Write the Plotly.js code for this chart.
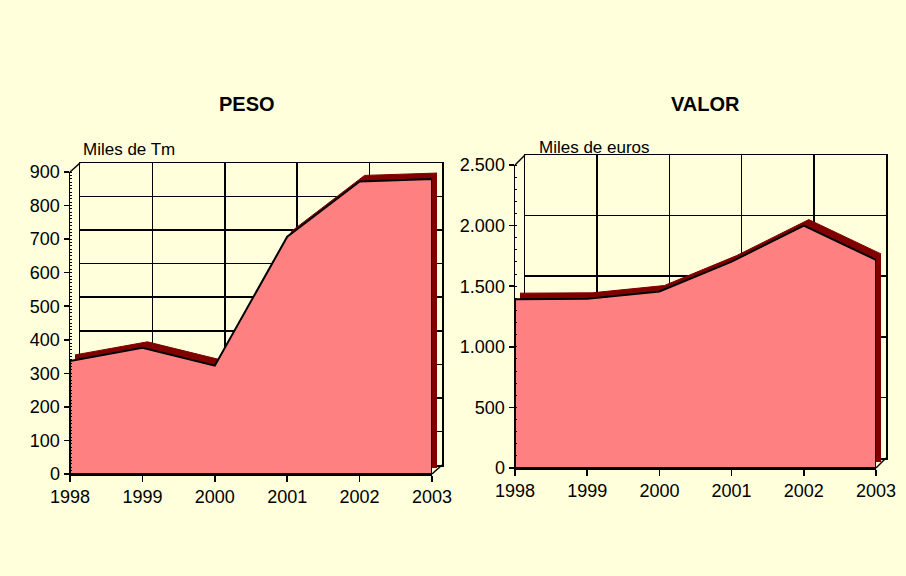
<!DOCTYPE html>
<html>
<head>
<meta charset="utf-8">
<script src="https://cdn.plot.ly/plotly-3.0.1.min.js"></script>
<style>html,body{margin:0;padding:0;background:#FFFFDB;}#chart{width:906px;height:576px;}</style>
</head>
<body>
<div id="chart"></div>
<script>
// ---- data ----
const years = [1998, 1999, 2000, 2001, 2002, 2003];
const yearLabels = ['1998', '1999', '2000', '2001', '2002', '2003'];
const peso = [337, 376, 323, 707, 872, 879];      // Miles de Tm
const valor = [1393, 1396, 1456, 1703, 2000, 1717]; // Miles de euros
const titles = ['PESO', 'VALOR'];
const units = ['Miles de Tm', 'Miles de euros'];

// ---- geometry helpers ----
const W = 906, H = 576;
const BG = '#FFFFDB', PINK = '#FF8080', DARK = '#800000';
const FONT = 'Liberation Sans, Arial, sans-serif';
function xd(a, b) { return [a / W, b / W]; }
function yd(top, bottom) { return [(H - bottom) / H, (H - top) / H]; }

function closed(xs, ys) {
  return {
    x: xs.concat([xs[xs.length - 1], xs[0], xs[0]]),
    y: ys.concat([0, 0, ys[0]])
  };
}

const charts = [
  {vals: peso, range: [0, 900], dtick: 100, minor: 10, fx: [70, 432], fy: [172, 474], wall: [10, 9], title: titles[0], unit: units[0], titleX: 247, unitX: 81, unitY: 150},
  {vals: valor, range: [0, 2500], dtick: 500, minor: 100, fx: [515, 876], fy: [165, 468], wall: [10, 10], title: titles[1], unit: units[1], titleX: 705, unitX: 537, unitY: 147}
];

const data = [];
const layout = {
  width: W, height: H,
  margin: {l: 0, r: 0, t: 0, b: 0},
  paper_bgcolor: BG,
  plot_bgcolor: 'rgba(0,0,0,0)',
  showlegend: false,
  separators: ',.',
  font: {family: FONT, color: '#000'},
  shapes: [],
  annotations: []
};

charts.forEach((c, i) => {
  const n = i * 3;
  const idW = n + 1, idD = n + 2, idF = n + 3;
  const ax = k => (k === 1 ? '' : String(k));
  const pts = closed(years, c.vals);
  // back wall grid
  data.push({x: [years[0]], y: [0], xaxis: 'x' + ax(idW), yaxis: 'y' + ax(idW), mode: 'markers', marker: {opacity: 0}, hoverinfo: 'skip'});
  // dark depth of the area (shifted)
  data.push({x: pts.x, y: pts.y, xaxis: 'x' + ax(idD), yaxis: 'y' + ax(idD), mode: 'lines', fill: 'toself', fillcolor: DARK, line: {color: DARK, width: 1}, hoverinfo: 'skip'});
  // front face
  data.push({x: pts.x, y: pts.y, xaxis: 'x' + ax(idF), yaxis: 'y' + ax(idF), mode: 'lines', fill: 'toself', fillcolor: PINK, line: {color: '#000', width: 2}, hoverinfo: 'skip'});

  const [fx0, fx1] = c.fx, [fy0, fy1] = c.fy;
  const [wx, wy] = c.wall;
  const dX = 5, dY = 6;

  layout['xaxis' + ax(idW)] = {domain: xd(fx0 + wx, fx1 + wx), range: [years[0], years[years.length - 1]], anchor: 'y' + ax(idW), showgrid: true, gridcolor: '#000', gridwidth: 1.5, dtick: 1, tick0: years[0], showticklabels: false, ticks: '', showline: true, mirror: true, linecolor: '#000', linewidth: 1.5, zeroline: false, fixedrange: true};
  layout['yaxis' + ax(idW)] = {domain: yd(fy0 - wy, fy1 - wy), range: c.range, anchor: 'x' + ax(idW), showgrid: true, gridcolor: '#000', gridwidth: 1.5, dtick: c.dtick, showticklabels: false, ticks: '', showline: true, mirror: true, linecolor: '#000', linewidth: 1.5, zeroline: false, fixedrange: true};

  layout['xaxis' + ax(idD)] = {domain: xd(fx0 + dX, fx1 + dX), range: [years[0], years[years.length - 1]], anchor: 'y' + ax(idD), visible: false, fixedrange: true};
  layout['yaxis' + ax(idD)] = {domain: yd(fy0 - dY, fy1 - dY), range: c.range, anchor: 'x' + ax(idD), visible: false, fixedrange: true};

  layout['xaxis' + ax(idF)] = {domain: xd(fx0, fx1), range: [years[0], years[years.length - 1]], anchor: 'y' + ax(idF), showgrid: false, zeroline: false, tickvals: years, ticktext: yearLabels, ticks: 'outside', ticklen: 6, tickwidth: 1.5, tickcolor: '#000', showline: true, linecolor: '#000', linewidth: 1.5, tickfont: {size: 18, family: FONT, color: '#000'}, fixedrange: true};
  layout['yaxis' + ax(idF)] = {domain: yd(fy0, fy1), range: c.range, anchor: 'x' + ax(idF), showgrid: false, zeroline: false, dtick: c.dtick, tickformat: ',d', ticks: 'outside', ticklen: 5, tickwidth: 1.5, tickcolor: '#000', showline: true, linecolor: '#000', linewidth: 1.5, tickfont: {size: 18, family: FONT, color: '#000'}, minor: {ticks: 'inside', dtick: c.minor, ticklen: 2, tickwidth: 1, tickcolor: '#000', showgrid: false}, fixedrange: true};

  // 3D connectors
  layout.shapes.push({type: 'line', xref: 'paper', yref: 'paper', x0: fx0 / W, y0: (H - fy0) / H, x1: (fx0 + wx) / W, y1: (H - fy0 + wy) / H, line: {color: '#000', width: 1.5}});
  layout.shapes.push({type: 'line', xref: 'paper', yref: 'paper', x0: fx1 / W, y0: (H - fy1) / H, x1: (fx1 + wx) / W, y1: (H - fy1 + wy) / H, line: {color: '#000', width: 1.5}});

  layout.annotations.push({text: '<b>' + c.title + '</b>', xref: 'paper', yref: 'paper', x: c.titleX / W, y: (H - 104) / H, xanchor: 'center', yanchor: 'middle', showarrow: false, font: {size: 20, family: FONT, color: '#000'}});
  layout.annotations.push({text: c.unit, xref: 'paper', yref: 'paper', x: c.unitX / W, y: (H - c.unitY) / H, xanchor: 'left', yanchor: 'middle', showarrow: false, font: {size: 17, family: FONT, color: '#000'}});
});

Plotly.newPlot('chart', data, layout, {displayModeBar: false, staticPlot: true});
</script>
</body>
</html>
